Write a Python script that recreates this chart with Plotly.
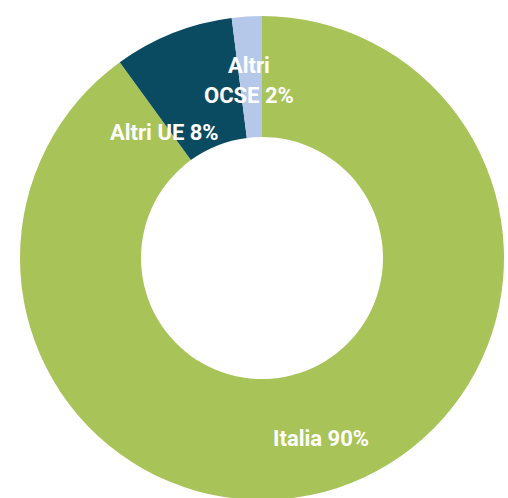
import plotly.graph_objects as go

# Share of the total by origin (%)
labels = ["Italia", "Altri UE", "Altri OCSE"]
values = [90, 8, 2]
colors = ["#a8c357", "#0b4b61", "#b6c8ea"]

W, H = 508, 502

fig = go.Figure(
    go.Pie(
        labels=labels,
        values=values,
        hole=0.5,
        sort=False,
        direction="clockwise",
        rotation=0,
        marker=dict(colors=colors, line=dict(width=0)),
        textinfo="none",
        hoverinfo="label+percent",
        domain=dict(x=[20 / W, 504 / W], y=[2 / H, 486 / H]),
    )
)

def px(x, y):
    return x / W, 1 - y / H

font = dict(family="Roboto", size=22, color="white", weight="bold")

# label text built from the data
txt = {lab: f"{lab} {v}%" for lab, v in zip(labels, values)}
ocse_first, ocse_rest = txt["Altri OCSE"].split(" ", 1)

ann = [
    (txt["Italia"], 321, 438),
    (txt["Altri UE"], 164, 132),
    (ocse_first, 249, 65),
    (ocse_rest, 249, 95),
]
annotations = []
for t, x, y in ann:
    ax, ay = px(x, y)
    annotations.append(dict(text=t, x=ax, y=ay, xref="paper", yref="paper",
                            xanchor="center", yanchor="middle",
                            showarrow=False, font=font))

fig.update_layout(
    width=W,
    height=H,
    margin=dict(l=0, r=0, t=0, b=0),
    paper_bgcolor="white",
    plot_bgcolor="white",
    showlegend=False,
    annotations=annotations,
)

fig.write_html("out.html")
